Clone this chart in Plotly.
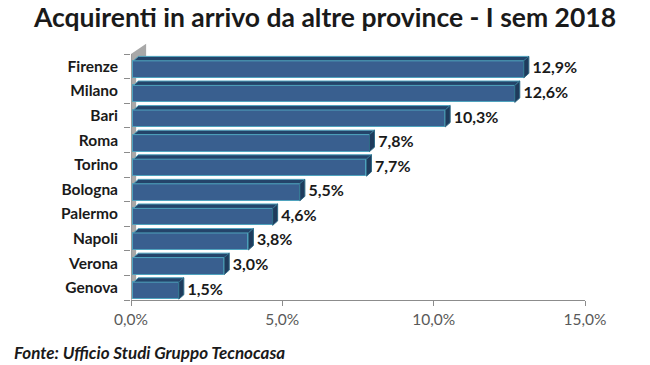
import plotly.graph_objects as go

cities = ["Firenze", "Milano", "Bari", "Roma", "Torino", "Bologna", "Palermo", "Napoli", "Verona", "Genova"]
values = [12.9, 12.6, 10.3, 7.8, 7.7, 5.5, 4.6, 3.8, 3.0, 1.5]
x_tickvals = [0, 5, 10, 15]
x_ticktext = ["0,0%", "5,0%", "10,0%", "15,0%"]

n = len(cities)
pos = [n - 1 - i for i in range(n)]
BASE = 0.08      # perspective offset of front face
OFF = -0.12      # vertical offset of front face
HALF = 0.345     # half height of front face
DX, DY = 0.165, 0.18  # depth of 3D effect

FRONT = "#395F8F"
TOP = "#24446A"
SIDE = "#1F3B5C"
EDGE = "#4FA3BE"

# page body has an 8px margin: lay the figure out in a 642x357 box
W, H = 642, 357
L, T = 123, 35
PW, PH = 454, 257

fig = go.Figure()

# front faces
fig.add_trace(go.Bar(
    orientation="h", y=[p + OFF for p in pos], x=values, base=BASE, width=2 * HALF,
    marker=dict(color=FRONT, line=dict(color=EDGE, width=1)), hoverinfo="skip", showlegend=False))

# top and side faces
tx, ty, sx, sy = [], [], [], []
for p, v in zip(pos, values):
    yb, yt = p + OFF - HALF, p + OFF + HALF
    e = BASE + v
    tx += [BASE, e, e + DX, BASE + DX, BASE, None]
    ty += [yt, yt, yt + DY, yt + DY, yt, None]
    sx += [e, e, e + DX, e + DX, e, None]
    sy += [yb, yt, yt + DY, yb + DY, yb, None]
fig.add_trace(go.Scatter(x=tx, y=ty, mode="lines", fill="toself", fillcolor=TOP,
                         line=dict(color=EDGE, width=1), hoverinfo="skip", showlegend=False))
fig.add_trace(go.Scatter(x=sx, y=sy, mode="lines", fill="toself", fillcolor=SIDE,
                         line=dict(color="#2E6A86", width=1), hoverinfo="skip", showlegend=False))

# data labels
fig.add_trace(go.Scatter(
    x=[BASE + v + DX + 0.12 for v in values], y=[p + OFF for p in pos], mode="text",
    text=[f"{v:.1f}%".replace(".", ",") for v in values], textposition="middle right",
    textfont=dict(family="Lato", size=16, color="#1a1a1a", weight="bold"),
    hoverinfo="skip", showlegend=False, cliponaxis=False))

# left wall (3D floor)
fig.add_shape(type="path", xref="x", yref="y", layer="below",
              path="M 0,-0.5 L 0,9.5 L 0.5,9.92 L 0.5,9.4 L 0.17,9.3 L 0.17,-0.25 Z",
              fillcolor="#A8A8A8", line=dict(width=0))
fig.add_shape(type="line", xref="x", yref="y", x0=0, x1=0, y0=-0.5, y1=9.5,
              line=dict(color="#8C8C8C", width=1))

fig.update_layout(
    width=W, height=H,
    margin=dict(l=L, r=W - L - PW, t=T, b=H - T - PH, pad=0),
    paper_bgcolor="white", plot_bgcolor="white",
    title=dict(text="<b>Acquirenti in arrivo da altre province - I sem 2018</b>",
               x=317 / W, xanchor="center", y=1 - 10 / H, yanchor="middle",
               font=dict(family="Lato", size=26.5, color="#1a1a1a")),
    xaxis=dict(range=[0, 15], tickvals=x_tickvals, ticktext=x_ticktext, automargin=False,
               showline=True, linecolor="#8C8C8C", linewidth=1,
               ticks="outside", ticklen=5, tickcolor="#8C8C8C",
               showgrid=False, zeroline=False,
               tickfont=dict(family="Lato", size=15.5, color="#595959")),
    yaxis=dict(range=[-0.5, 9.95], tickvals=pos, ticktext=cities, ticks="", automargin=False,
               showline=False, showgrid=False, zeroline=False, ticklabelstandoff=12,
               tickfont=dict(family="Lato", size=15.5, color="#1a1a1a", weight="bold"),
               minor=dict(tickmode="array", tickvals=[i - 0.5 for i in range(n + 1)],
                          ticks="outside", ticklen=6, tickcolor="#8C8C8C")),
    bargap=0,
    annotations=[dict(text="<b><i>Fonte: Ufficio Studi Gruppo Tecnocasa</i></b>",
                      xref="paper", yref="paper", x=(4 - L) / PW, y=-52 / PH,
                      xanchor="left", yanchor="middle", showarrow=False,
                      font=dict(family="Lato", size=17, color="#1a1a1a"))],
)

fig.write_html("out.html")
